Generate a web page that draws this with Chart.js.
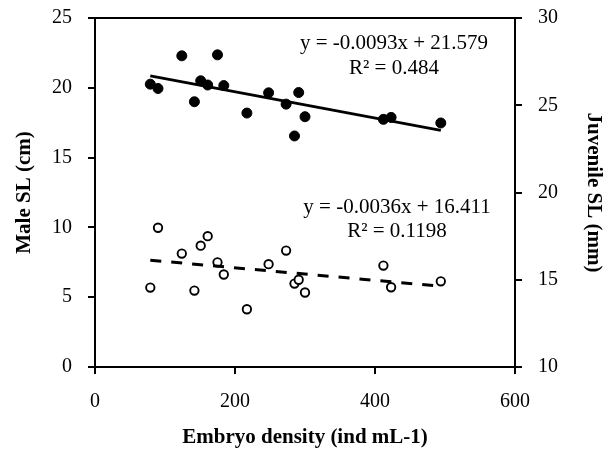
<!DOCTYPE html>
<html>
<head>
<meta charset="utf-8">
<script src="https://cdn.jsdelivr.net/npm/chart.js@4.4.1/dist/chart.umd.min.js"></script>
<style>
    html, body { margin: 0; padding: 0; background: #fff; }
    #wrap { width: 609px; height: 452px; position: relative; }
</style>
</head>
<body>
<div id="wrap"><canvas id="chart"></canvas></div>
<script>
// embryo density (ind mL-1), shared by both series
const density = [79, 90, 124, 142, 151, 161, 175, 184, 217, 248, 273, 285, 291, 300, 412, 423, 494];
// male SL (cm), left axis, filled dots
const maleSL = [20.26, 19.95, 22.29, 19.0, 20.5, 20.2, 22.36, 20.16, 18.19, 19.64, 18.83, 16.55, 19.66, 17.93, 17.74, 17.88, 17.48];
// juvenile SL (mm), right axis, open dots
const juvenileSL = [14.55, 17.98, 16.5, 14.38, 16.95, 17.5, 16.0, 15.3, 13.31, 15.89, 16.67, 14.78, 15.0, 14.27, 15.81, 14.57, 14.91];

// trend line ends
const trendX = [79, 494];
const maleTrend = [20.85, 16.95];
const juvenileTrend = [16.12, 14.63];

const maleEquation = ['y = -0.0093x + 21.579', 'R\u00B2 = 0.484'];
const juvenileEquation = ['y = -0.0036x + 16.411', 'R\u00B2 = 0.1198'];

const FONT = '"Liberation Serif", "Times New Roman", serif';

const toPoints = (xs, ys) => xs.map((x, i) => ({ x: x, y: ys[i] }));

const equationLabels = {
    id: 'equationLabels',
    afterDatasetsDraw(chart) {
        const ctx = chart.ctx;
        const area = chart.chartArea;
        ctx.save();
        ctx.font = '21px ' + FONT;
        ctx.fillStyle = '#000';
        ctx.textAlign = 'center';
        ctx.textBaseline = 'middle';
        const cx = area.left + 299;
        ctx.fillText(maleEquation[0], cx, area.top + 25);
        ctx.fillText(maleEquation[1], cx, area.top + 50);
        ctx.fillText(juvenileEquation[0], cx + 3, area.top + 189);
        ctx.fillText(juvenileEquation[1], cx + 3, area.top + 213);
        ctx.restore();
    }
};

const tickFont = { family: FONT, size: 20 };
const titleFont = { family: FONT, size: 21, weight: 'bold' };

// fixed box for the vertical axes, without the label overhang padding
const fitVertical = (w) => (s) => {
    s.width = w;
    s.paddingTop = 0;
    s.paddingBottom = 0;
};

new Chart(document.getElementById('chart').getContext('2d'), {
    type: 'scatter',
    data: {
        datasets: [
            {
                label: 'Male trend',
                type: 'line',
                data: toPoints(trendX, maleTrend),
                yAxisID: 'yMale',
                borderColor: '#000',
                borderWidth: 2.75,
                pointRadius: 0,
                fill: false
            },
            {
                label: 'Juvenile trend',
                type: 'line',
                data: toPoints(trendX, juvenileTrend),
                yAxisID: 'yJuv',
                borderColor: '#000',
                borderWidth: 3,
                borderDash: [11, 10],
                pointRadius: 0,
                fill: false
            },
            {
                label: 'Male SL',
                data: toPoints(density, maleSL),
                yAxisID: 'yMale',
                pointRadius: 5,
                pointBackgroundColor: '#000',
                pointBorderColor: '#000',
                pointBorderWidth: 1
            },
            {
                label: 'Juvenile SL',
                data: toPoints(density, juvenileSL),
                yAxisID: 'yJuv',
                pointRadius: 4.2,
                pointBackgroundColor: '#fff',
                pointBorderColor: '#000',
                pointBorderWidth: 1.9
            }
        ]
    },
    options: {
        responsive: true,
        maintainAspectRatio: false,
        animation: false,
        layout: { padding: { top: 18, left: 0, right: 0, bottom: 0 } },
        plugins: {
            legend: { display: false },
            tooltip: { enabled: false }
        },
        scales: {
            x: {
                type: 'linear',
                min: 0,
                max: 600,
                afterFit: (s) => { s.height = 85; },
                ticks: { stepSize: 200, color: '#000', font: tickFont, padding: 16 },
                grid: { drawOnChartArea: false, tickLength: 7, tickColor: '#000', lineWidth: 2 },
                border: { color: '#000', width: 2 },
                title: { display: true, text: 'Embryo density (ind mL-1)', color: '#000', font: titleFont, padding: { top: 0, bottom: 2 } }
            },
            yMale: {
                type: 'linear',
                position: 'left',
                min: 0,
                max: 25,
                afterFit: fitVertical(95),
                ticks: { stepSize: 5, color: '#000', font: tickFont, padding: 16 },
                grid: {
                    drawOnChartArea: true,
                    color: (c) => (c.tick && c.tick.value === 25 ? '#000' : 'rgba(0,0,0,0)'),
                    tickColor: '#000',
                    tickLength: 7,
                    lineWidth: 2
                },
                border: { color: '#000', width: 2 },
                title: { display: true, text: 'Male SL (cm)', color: '#000', font: titleFont, padding: { top: 12, bottom: 0 } }
            },
            yJuv: {
                type: 'linear',
                position: 'right',
                min: 10,
                max: 30,
                afterFit: fitVertical(94),
                ticks: { stepSize: 5, color: '#000', font: tickFont, padding: 16 },
                grid: { drawOnChartArea: false, tickColor: '#000', tickLength: 7, lineWidth: 2 },
                border: { color: '#000', width: 2 },
                title: { display: true, text: 'Juvenile SL (mm)', color: '#000', font: titleFont, padding: { top: 3, bottom: 0 } }
            }
        }
    },
    plugins: [equationLabels]
});
</script>
</body>
</html>
